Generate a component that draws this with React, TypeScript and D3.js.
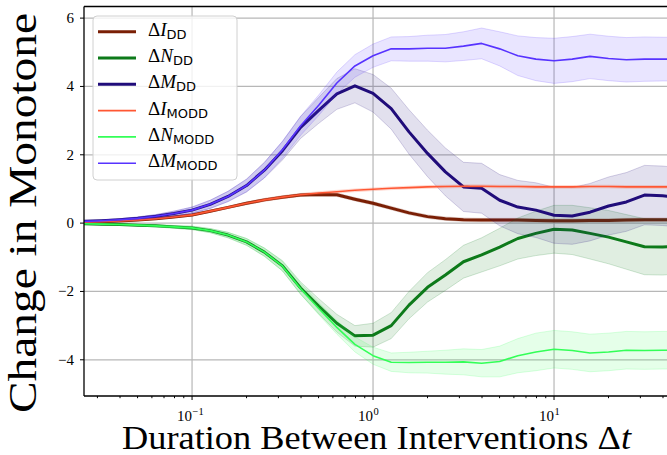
import React from "react";
import * as d3 from "d3";

// durations (log-spaced)
const durations = [
  0.025, 0.0316, 0.0398, 0.0501, 0.0631, 0.0794, 0.1, 0.126, 0.158, 0.2, 0.251, 0.316, 0.398, 0.501,
  0.631, 0.794, 1, 1.26, 1.58, 2, 2.51, 3.16, 3.98, 5.01, 6.31, 7.94, 10, 12.6, 15.8, 20, 25.1, 31.6,
  39.8, 50.1,
];

const iDD = [
  0.03, 0.04, 0.06, 0.09, 0.13, 0.18, 0.24, 0.35, 0.46, 0.58, 0.68, 0.76, 0.82, 0.84, 0.83, 0.7, 0.58,
  0.44, 0.3, 0.19, 0.13, 0.1, 0.09, 0.09, 0.09, 0.08, 0.07, 0.07, 0.08, 0.08, 0.09, 0.1, 0.1, 0.1,
];
const nDD = [
  -0.02, -0.03, -0.04, -0.06, -0.08, -0.11, -0.14, -0.22, -0.35, -0.55, -0.85, -1.25, -1.9, -2.43,
  -2.93, -3.3, -3.28, -3.0, -2.4, -1.88, -1.52, -1.13, -0.93, -0.7, -0.45, -0.3, -0.18, -0.2, -0.3,
  -0.41, -0.55, -0.69, -0.7, -0.66,
];
const mDD = [
  0.05, 0.07, 0.1, 0.14, 0.2, 0.28, 0.38, 0.55, 0.78, 1.1, 1.55, 2.12, 2.8, 3.3, 3.78, 4.02, 3.8, 3.35,
  2.67, 2.04, 1.5, 1.06, 1.02, 0.67, 0.47, 0.38, 0.23, 0.21, 0.32, 0.5, 0.62, 0.82, 0.8, 0.75,
];
const iMODD = [
  0.03, 0.04, 0.06, 0.09, 0.13, 0.18, 0.24, 0.35, 0.46, 0.58, 0.68, 0.76, 0.83, 0.88, 0.92, 0.96, 0.99,
  1.02, 1.04, 1.06, 1.07, 1.08, 1.08, 1.07, 1.07, 1.06, 1.06, 1.06, 1.07, 1.07, 1.06, 1.06, 1.06, 1.06,
];
const nMODD = [
  -0.02, -0.03, -0.04, -0.06, -0.08, -0.11, -0.14, -0.22, -0.35, -0.55, -0.85, -1.26, -1.92, -2.5,
  -3.05, -3.55, -3.88, -4.07, -4.08, -4.07, -4.07, -4.06, -4.1, -4.05, -3.88, -3.77, -3.69, -3.73, -3.8,
  -3.77, -3.72, -3.73, -3.72, -3.72,
];
const mMODD = [
  0.05, 0.07, 0.1, 0.14, 0.2, 0.28, 0.38, 0.55, 0.78, 1.1, 1.55, 2.15, 2.85, 3.45, 4.1, 4.6, 4.9, 5.1,
  5.1, 5.12, 5.12, 5.18, 5.26, 5.1, 4.9, 4.8, 4.75, 4.8, 4.88, 4.82, 4.78, 4.8, 4.8, 4.8,
];

// half-width of the shaded bands
const iDDStd = [
  0.01, 0.01, 0.01, 0.02, 0.02, 0.02, 0.03, 0.03, 0.03, 0.04, 0.04, 0.04, 0.04, 0.05, 0.05, 0.05, 0.05,
  0.05, 0.05, 0.05, 0.05, 0.05, 0.05, 0.05, 0.05, 0.05, 0.05, 0.05, 0.05, 0.05, 0.05, 0.05, 0.05, 0.05,
];
const nDDStd = [
  0.01, 0.01, 0.02, 0.02, 0.03, 0.04, 0.05, 0.06, 0.08, 0.1, 0.12, 0.15, 0.18, 0.22, 0.26, 0.3, 0.35,
  0.38, 0.4, 0.43, 0.45, 0.48, 0.5, 0.55, 0.6, 0.65, 0.7, 0.72, 0.75, 0.78, 0.8, 0.82, 0.82, 0.82,
];
const mDDStd = [
  0.02, 0.02, 0.03, 0.04, 0.05, 0.07, 0.09, 0.12, 0.15, 0.19, 0.23, 0.27, 0.32, 0.38, 0.45, 0.5, 0.55,
  0.6, 0.65, 0.68, 0.7, 0.72, 0.73, 0.75, 0.78, 0.8, 0.82, 0.83, 0.84, 0.85, 0.86, 0.87, 0.87, 0.87,
];
const iMODDStd = [
  0.01, 0.01, 0.01, 0.02, 0.02, 0.02, 0.03, 0.03, 0.03, 0.03, 0.04, 0.04, 0.04, 0.04, 0.04, 0.04, 0.04,
  0.04, 0.04, 0.04, 0.04, 0.04, 0.04, 0.04, 0.04, 0.04, 0.04, 0.04, 0.04, 0.04, 0.04, 0.04, 0.04, 0.04,
];
const nMODDStd = [
  0.01, 0.01, 0.02, 0.02, 0.03, 0.04, 0.05, 0.06, 0.08, 0.1, 0.12, 0.14, 0.16, 0.18, 0.2, 0.22, 0.25,
  0.27, 0.3, 0.32, 0.35, 0.38, 0.4, 0.45, 0.5, 0.55, 0.55, 0.55, 0.55, 0.55, 0.55, 0.55, 0.55, 0.55,
];
const mMODDStd = [
  0.02, 0.02, 0.03, 0.04, 0.05, 0.07, 0.09, 0.12, 0.15, 0.18, 0.22, 0.25, 0.28, 0.3, 0.32, 0.33, 0.34,
  0.35, 0.36, 0.38, 0.4, 0.42, 0.45, 0.5, 0.58, 0.63, 0.66, 0.66, 0.65, 0.65, 0.65, 0.65, 0.64, 0.64,
];

const xTicks = [0.1, 1, 10];
const xTickExps = ["\u22121", "0", "1"];
const yTicks = [-4, -2, 0, 2, 4, 6];

const series = [
  { sym: "I", sub: "DD", mean: iDD, std: iDDStd, color: "#7a1f05", width: 3 },
  { sym: "N", sub: "DD", mean: nDD, std: nDDStd, color: "#0d7a1a", width: 3 },
  { sym: "M", sub: "DD", mean: mDD, std: mDDStd, color: "#200c7a", width: 3 },
  { sym: "I", sub: "MODD", mean: iMODD, std: iMODDStd, color: "#ff5733", width: 1.6 },
  { sym: "N", sub: "MODD", mean: nMODD, std: nMODDStd, color: "#33ff57", width: 1.6 },
  { sym: "M", sub: "MODD", mean: mMODD, std: mMODDStd, color: "#5733ff", width: 1.6 },
];

const W = 667;
const H = 455;
const left = 84;
const right = 680;
const top = 6.5;
const bottom = 396;

export default function App() {
  const x = d3.scaleLog().domain([10 ** -1.597, 10 ** 1.696]).range([left, right]);
  const y = d3.scaleLinear().domain([-5.06, 6.34]).range([bottom, top]);

  const minorTicks: number[] = [];
  [0.01, 0.1, 1, 10].forEach((d) => {
    for (let k = 2; k <= 9; k++) {
      const v = d * k;
      if (x(v) >= left && x(v) <= W) minorTicks.push(v);
    }
  });

  const line = (vals: number[]) =>
    d3
      .line<number>()
      .x((_, i) => x(durations[i]))
      .y((v) => y(v))(vals) || "";
  const band = (vals: number[], std: number[]) =>
    d3
      .area<number>()
      .x((_, i) => x(durations[i]))
      .y0((v, i) => y(v - std[i]))
      .y1((v, i) => y(v + std[i]))(vals) || "";

  const serif = "'Liberation Serif', 'Times New Roman', serif";
  const sans = "'DejaVu Sans', sans-serif";

  return (
    <svg width={W} height={H} style={{ position: "absolute", left: 0, top: 0, background: "#fff" }}>
      <defs>
        <clipPath id="plot">
          <rect x={left} y={top} width={right - left} height={bottom - top} />
        </clipPath>
      </defs>

      {/* grid */}
      <g stroke="#b7b7b7" strokeWidth={1.2}>
        {xTicks.map((t) => (
          <line key={t} x1={x(t)} x2={x(t)} y1={top} y2={bottom} />
        ))}
        {yTicks.map((t) => (
          <line key={t} x1={left} x2={right} y1={y(t)} y2={y(t)} />
        ))}
      </g>

      {/* bands and lines */}
      <g clipPath="url(#plot)">
        {series.map((s, i) => (
          <g key={i}>
            <path
              d={band(s.mean, s.std)}
              fill={s.color}
              fillOpacity={0.13}
              stroke={s.color}
              strokeOpacity={0.18}
              strokeWidth={1}
            />
            <path
              d={line(s.mean)}
              fill="none"
              stroke={s.color}
              strokeWidth={s.width}
              strokeLinejoin="round"
              strokeLinecap="butt"
            />
          </g>
        ))}
      </g>

      {/* spines */}
      <g stroke="#000" strokeWidth={1.3} fill="none">
        <line x1={left} x2={left} y1={top} y2={bottom} />
        <line x1={left} x2={right} y1={top} y2={top} />
        <line x1={left} x2={right} y1={bottom} y2={bottom} />
      </g>

      {/* x ticks */}
      <g stroke="#000" strokeWidth={1}>
        {xTicks.map((t) => (
          <line key={t} x1={x(t)} x2={x(t)} y1={bottom} y2={bottom + 4} />
        ))}
        {minorTicks.map((t) => (
          <line key={t} x1={x(t)} x2={x(t)} y1={bottom} y2={bottom + 2.2} />
        ))}
      </g>
      <g fontFamily={serif} fill="#000">
        {xTicks.map((t, i) => (
          <g key={t}>
            <text x={x(t)} y={421} fontSize={15} textAnchor="end">
              10
            </text>
            <text x={x(t) + 0.5} y={415} fontSize={10.5}>
              {xTickExps[i]}
            </text>
          </g>
        ))}
      </g>

      {/* y ticks */}
      <g stroke="#000" strokeWidth={1}>
        {yTicks.map((t) => (
          <line key={t} x1={left - 4} x2={left} y1={y(t)} y2={y(t)} />
        ))}
      </g>
      <g fontFamily={serif} fontSize={15} fill="#000" textAnchor="end">
        {yTicks.map((t) => (
          <text key={t} x={74} y={y(t) + 5}>
            {t < 0 ? "\u2212" + Math.abs(t) : String(t)}
          </text>
        ))}
      </g>

      {/* axis labels */}
      <text
        x={122}
        y={449}
        fontFamily={serif}
        fontSize={33}
        textLength={509}
        lengthAdjust="spacingAndGlyphs"
      >
        Duration Between Interventions Δ<tspan fontStyle="italic">t</tspan>
      </text>
      <text
        transform="translate(36,213) rotate(-90)"
        textAnchor="middle"
        fontFamily={serif}
        fontSize={41}
        textLength={400}
        lengthAdjust="spacingAndGlyphs"
      >
        Change in Monotone
      </text>

      {/* legend */}
      <g>
        <rect
          x={93}
          y={16}
          width={144}
          height={164}
          rx={4}
          fill="#fff"
          fillOpacity={0.8}
          stroke="#d0d0d0"
          strokeWidth={1}
        />
        {series.map((s, i) => {
          const cy = 31.7 + i * 26.3;
          return (
            <g key={i}>
              <line x1={98} x2={136} y1={cy} y2={cy} stroke={s.color} strokeWidth={s.width} />
              <text x={148} y={cy + 4} fontFamily={serif} fontSize={19} fill="#000">
                Δ<tspan fontStyle="italic">{s.sym}</tspan>
                <tspan fontFamily={sans} fontSize={13} dy={3}>
                  {s.sub}
                </tspan>
              </text>
            </g>
          );
        })}
      </g>
    </svg>
  );
}
